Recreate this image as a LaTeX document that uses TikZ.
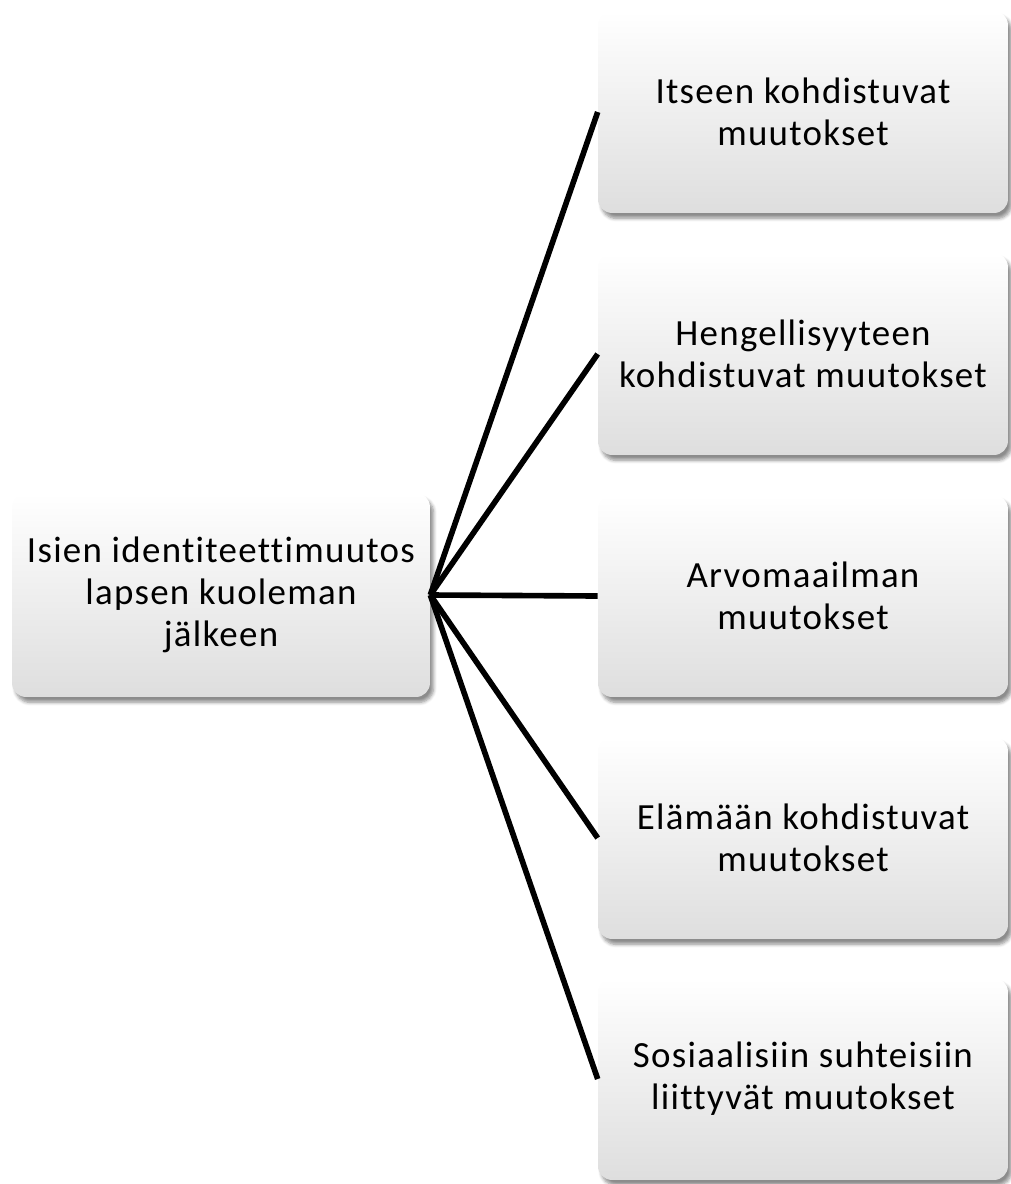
\documentclass[tikz,border=0pt]{standalone}
\usepackage{fontspec}
\setmainfont[Ligatures=NoCommon, LetterSpace=3.5]{Carlito}
\usepackage{tikz}
\usetikzlibrary{shadows.blur, positioning}
\definecolor{boxtop}{RGB}{255, 255, 255}
\definecolor{boxbot}{RGB}{222, 222, 222}

\tikzset{
  topicbox/.style={rounded corners=8pt, top color=boxtop, bottom color=boxbot,
    blur shadow={shadow xshift=2pt, shadow yshift=-3pt, shadow blur steps=6, shadow opacity=45},
    font=\fontsize{21}{23.8}\selectfont, align=center, inner sep=2pt},
  srcbox/.style={topicbox, minimum width=8.36cm, minimum height=4.08cm},
  itembox/.style={topicbox, minimum width=8.2cm, minimum height=4.04cm},
  link/.style={line width=3.2pt, black}
}

\begin{document}
\begin{tikzpicture}[x=0.02cm, y=-0.02cm]
  \useasboundingbox (0,0) rectangle (1011,1184);

  % Source
  \node[srcbox] (src) at (221, 595) {Isien identiteettimuutos\\lapsen kuoleman\\jälkeen};

  % Changes
  \node[itembox] (self) at (803, 112) {Itseen kohdistuvat\\muutokset};
  \node[itembox] (spirit) at (803, 354) {Hengellisyyteen\\kohdistuvat muutokset};
  \node[itembox] (values) at (803, 596) {Arvomaailman\\muutokset};
  \node[itembox] (life) at (803, 838) {Elämään kohdistuvat\\muutokset};
  \node[itembox] (social) at (803, 1079) {Sosiaalisiin suhteisiin\\liittyvät muutokset};

  \foreach \t in {self, spirit, values, life, social}
    \draw[link] (src.east) -- (\t.west);
\end{tikzpicture}
\end{document}
